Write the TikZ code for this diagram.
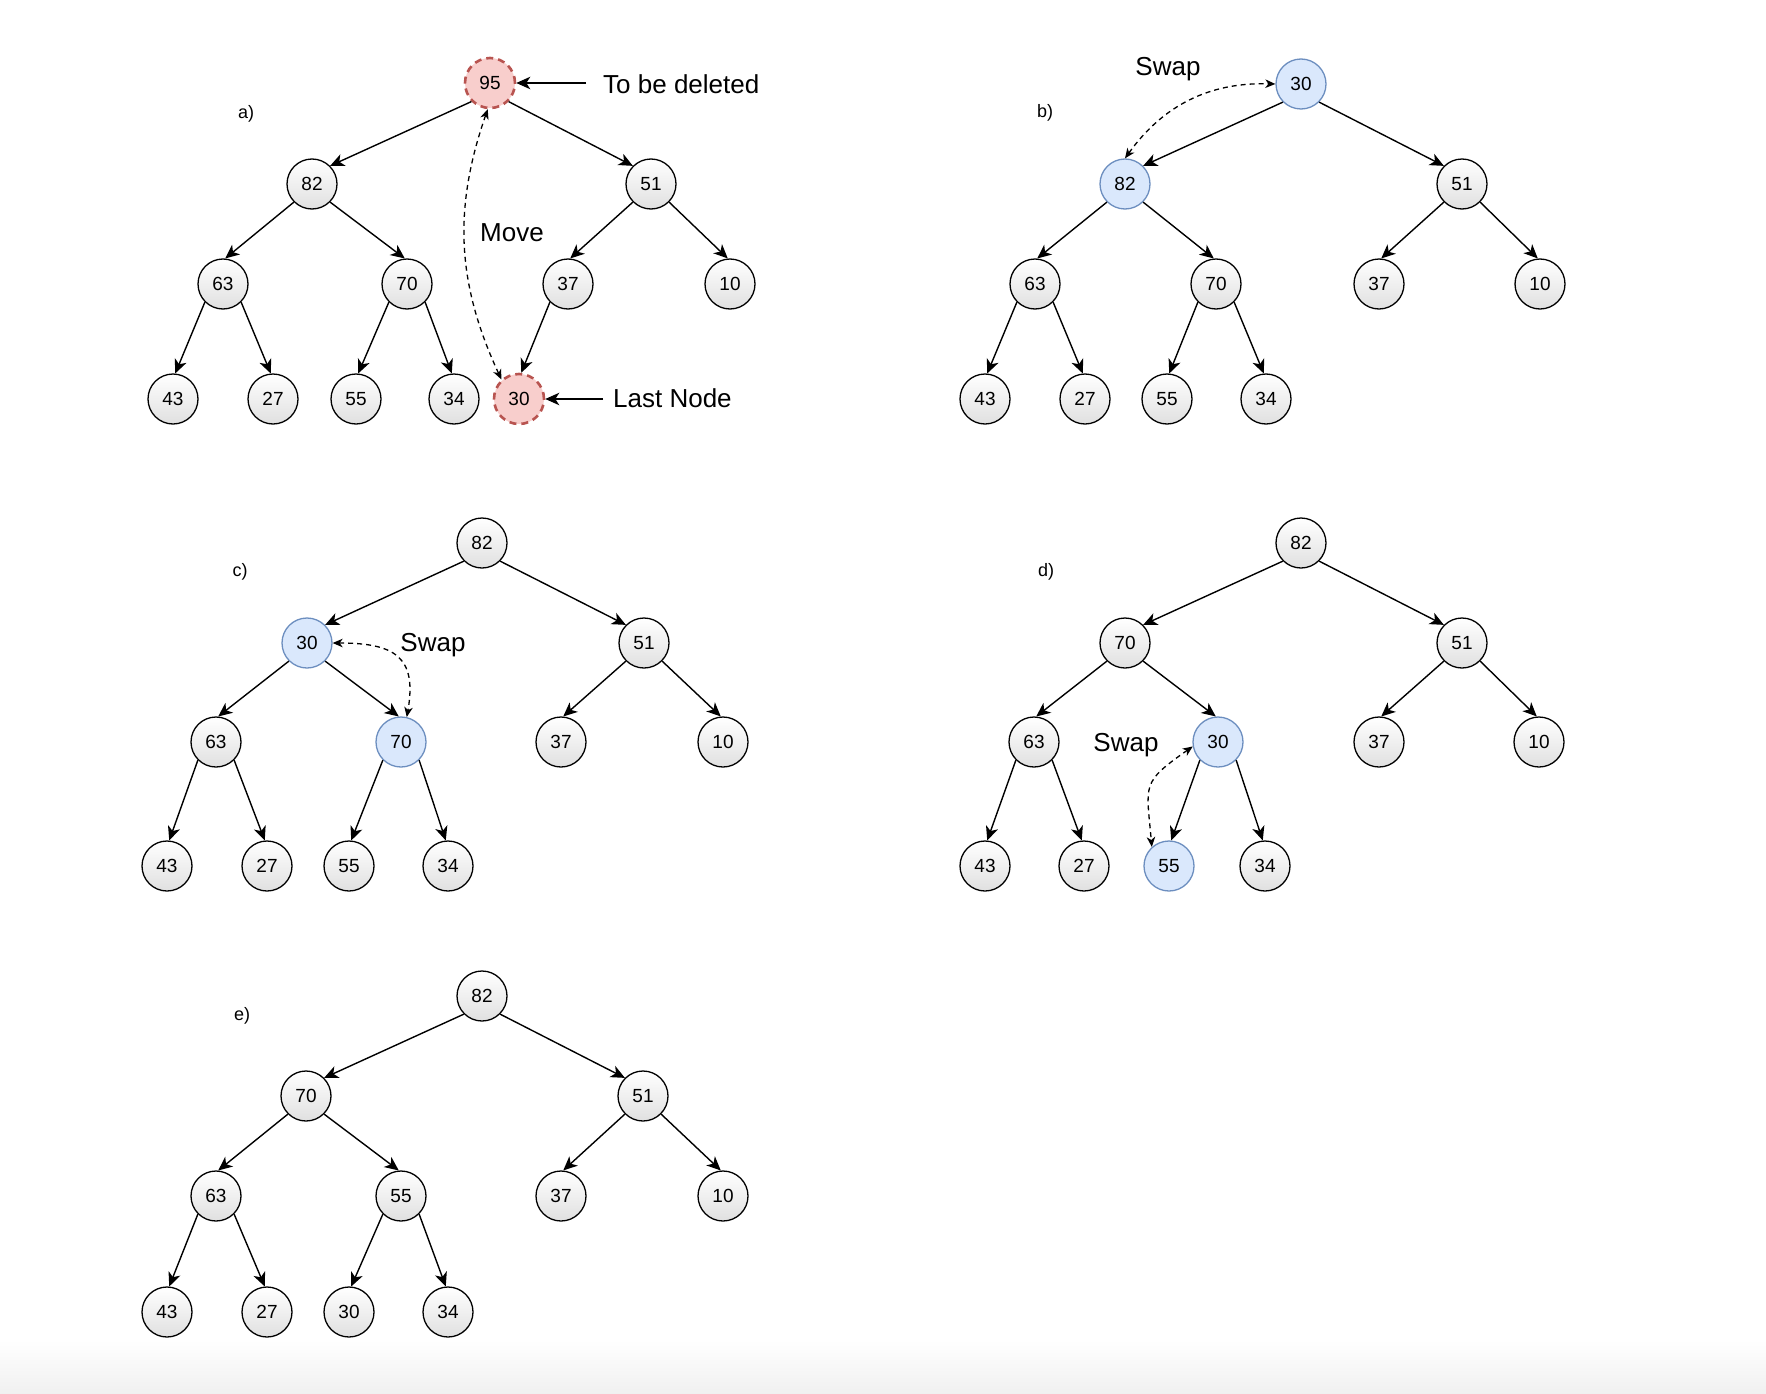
\documentclass[tikz,border=0pt]{standalone}
\usepackage{fontspec}
\setmainfont{Liberation Sans}
\usetikzlibrary{arrows.meta}
\definecolor{redfill}{HTML}{F8CECC}
\definecolor{redline}{HTML}{B85450}
\definecolor{bluefill}{HTML}{DAE8FC}
\definecolor{blueline}{HTML}{6C8EBF}
\definecolor{nodebot}{HTML}{E0E0E0}
\definecolor{pagebot}{HTML}{F0F0F0}
\begin{document}
\begin{tikzpicture}[x=1pt,y=1pt,
  cbase/.style={circle, minimum size=50pt, inner sep=0pt, font=\fontsize{19}{22}\selectfont},
  nd/.style={cbase, draw=black, line width=1.3pt, top color=white, bottom color=nodebot},
  rd/.style={cbase, draw=redline, fill=redfill, line width=2.6pt, dash pattern=on 7pt off 5pt},
  bl/.style={cbase, draw=blueline, fill=bluefill, line width=1.3pt},
  ed/.style={-{Stealth[length=14pt,width=12.5pt,inset=4pt]}, line width=1.4pt},
  sw/.style={{Stealth[length=10pt,width=8.5pt,inset=3pt]}-{Stealth[length=10pt,width=8.5pt,inset=3pt]}, line width=1.3pt, dash pattern=on 5pt off 4pt},
  lbl/.style={font=\fontsize{26}{30}\selectfont, inner sep=0pt},
  tag/.style={font=\fontsize{18}{22}\selectfont, inner sep=0pt}
]
\useasboundingbox (0,0) rectangle (1766,-1394);
\shade[top color=white, bottom color=pagebot] (0,-1340) rectangle (1766,-1394);

% ---------- a) ----------
\node[tag] (ta) at (246,-113.5) {a)};
\node[rd] (a1) at (490,-83) {95};
\node[nd] (a2) at (312,-184) {82};
\node[nd] (a3) at (651,-184) {51};
\node[nd] (a4) at (223,-284) {63};
\node[nd] (a5) at (407,-284) {70};
\node[nd] (a6) at (568,-284) {37};
\node[nd] (a7) at (730,-284) {10};
\node[nd] (a8) at (173,-399) {43};
\node[nd] (a9) at (273,-399) {27};
\node[nd] (a10) at (356,-399) {55};
\node[nd] (a11) at (454,-399) {34};
\node[rd] (a12) at (519,-399) {30};
\draw[ed] (a6.225) -- (a12.85);
\node[lbl, anchor=west] (tdel) at (603,-84) {To be deleted};
\coordinate (tdelc) at (586,-83);
\draw[ed] (tdelc) -- (a1);
\node[lbl, anchor=west] (tlast) at (613,-398) {Last Node};
\coordinate (tlastc) at (603,-399);
\draw[ed] (tlastc) -- (a12);
\node[lbl] (tmove) at (512,-233) {Move};
\draw[sw] (a1.265) to[bend right=22] (a12.132);

% ---------- b) ----------
\node[tag] (tb) at (1045,-112.5) {b)};
\node[bl] (b1) at (1301,-84) {30};
\node[bl] (b2) at (1125,-184) {82};
\node[nd] (b3) at (1462,-184) {51};
\node[nd] (b4) at (1035,-284) {63};
\node[nd] (b5) at (1216,-284) {70};
\node[nd] (b6) at (1379,-284) {37};
\node[nd] (b7) at (1540,-284) {10};
\node[nd] (b8) at (985,-399) {43};
\node[nd] (b9) at (1085,-399) {27};
\node[nd] (b10) at (1167,-399) {55};
\node[nd] (b11) at (1266,-399) {34};
\node[lbl] (tswb) at (1168,-69.5) {Swap};
\draw[sw] (b2.north) to[bend left=28] (b1.west);

% ---------- c) ----------
\node[tag] (tc) at (240,-571.5) {c)};
\node[nd] (c1) at (482,-543) {82};
\node[bl] (c2) at (307,-643) {30};
\node[nd] (c3) at (644,-643) {51};
\node[nd] (c4) at (216,-742) {63};
\node[bl] (c5) at (401,-742) {70};
\node[nd] (c6) at (561,-742) {37};
\node[nd] (c7) at (723,-742) {10};
\node[nd] (c8) at (167,-866) {43};
\node[nd] (c9) at (267,-866) {27};
\node[nd] (c10) at (349,-866) {55};
\node[nd] (c11) at (448,-866) {34};
\node[lbl] (tswc) at (433,-645.5) {Swap};
\draw[sw] (c2.east) to[out=0,in=80,looseness=1.5] (c5.77);

% ---------- d) ----------
\node[tag] (td) at (1046,-571.5) {d)};
\node[nd] (d1) at (1301,-543) {82};
\node[nd] (d2) at (1125,-643) {70};
\node[nd] (d3) at (1462,-643) {51};
\node[nd] (d4) at (1034,-742) {63};
\node[bl] (d5) at (1218,-742) {30};
\node[nd] (d6) at (1379,-742) {37};
\node[nd] (d7) at (1539,-742) {10};
\node[nd] (d8) at (985,-866) {43};
\node[nd] (d9) at (1084,-866) {27};
\node[bl] (d10) at (1169,-866) {55};
\node[nd] (d11) at (1265,-866) {34};
\node[lbl] (tswd) at (1126,-745.5) {Swap};
\draw[sw] (d5.190) to[out=215,in=95,looseness=1.5] (d10.132);

% ---------- e) ----------
\node[tag] (te) at (242,-1015.5) {e)};
\node[nd] (e1) at (482,-996) {82};
\node[nd] (e2) at (306,-1096) {70};
\node[nd] (e3) at (643,-1096) {51};
\node[nd] (e4) at (216,-1196) {63};
\node[nd] (e5) at (401,-1196) {55};
\node[nd] (e6) at (561,-1196) {37};
\node[nd] (e7) at (723,-1196) {10};
\node[nd] (e8) at (167,-1312) {43};
\node[nd] (e9) at (267,-1312) {27};
\node[nd] (e10) at (349,-1312) {30};
\node[nd] (e11) at (448,-1312) {34};

% ---------- tree edges ----------
\foreach \t in {a,b,c,d,e}{
  \draw[ed] (\t1.225) -- (\t2.45);
  \draw[ed] (\t1.315) -- (\t3.135);
  \foreach \p/\c/\pa/\ca in {2/4/225/85, 2/5/315/95, 3/6/225/85, 3/7/315/95,
                              4/8/225/85, 4/9/315/95, 5/10/225/85, 5/11/315/95}{
    \draw[ed] (\t\p.\pa) -- (\t\c.\ca);
  }
}
\end{tikzpicture}
\end{document}
